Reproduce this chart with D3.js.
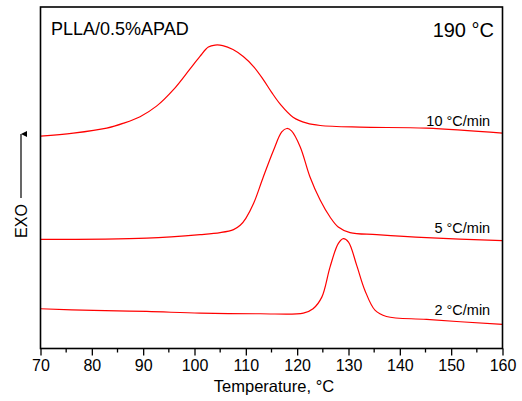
<!DOCTYPE html>
<html>
<head>
<meta charset="utf-8">
<script src="https://cdn.jsdelivr.net/npm/d3@7"></script>
<style>
  body { margin: 0; background: #fff; }
  text { font-family: "Liberation Sans", Arial, sans-serif; fill: #000; }
</style>
</head>
<body>
<div id="chart"></div>
<script>
// DSC cooling curves, PLLA/0.5%APAD held at 190 °C, then cooled at 3 rates
// heat flow in arbitrary units (exo up)

const temp10 = [70, 76.4, 82.9, 86.2, 89.4, 92.6, 95.9, 99.1, 101.1, 102.7, 104, 105.5, 107.5, 109.5, 111.5, 113.4, 115, 116.7, 119.2, 121.9, 124.5, 132.2, 145.2, 160];
const flow10 = [21.2, 21.5, 22.0, 22.5, 23.15, 24.2, 25.85, 27.9, 29.2, 30.1, 30.3, 30.25, 29.85, 29.15, 28.15, 26.85, 25.6, 24.4, 23.1, 22.5, 22.27, 22.1, 22.0, 21.5];

const temp5 = [70, 90.7, 101.1, 105, 107.6, 108.9, 110, 111.5, 113.4, 115.4, 117, 118, 118.9, 120.6, 122.5, 124.5, 126.4, 128, 130.3, 135.5, 145.2, 160];
const flow5 = [10.9, 11.03, 11.37, 11.57, 11.87, 12.3, 13.0, 14.47, 17.13, 19.8, 21.63, 21.97, 21.73, 20.13, 17.13, 14.8, 13.13, 12.13, 11.57, 11.37, 11.07, 10.77];

const temp2 = [70, 80.3, 90.7, 101.1, 112.8, 121.2, 123.1, 124.8, 126.4, 128, 129, 130, 131.6, 133.2, 135.2, 137.4, 145.2, 160];
const flow2 = [3.97, 3.8, 3.7, 3.53, 3.47, 3.53, 3.97, 5.13, 8.13, 10.47, 10.97, 10.63, 8.3, 5.8, 3.8, 3.2, 2.9, 2.4];

const rateLabels = ["10 °C/min", "5 °C/min", "2 °C/min"];
const labelTemps = [157.6, 157.6, 157.6];
const labelFlows = [22.2, 11.5, 3.3];

const xTicks = [70, 80, 90, 100, 110, 120, 130, 140, 150, 160];

const width = 522, height = 401;
const margin = { top: 7, right: 19.5, bottom: 52.5, left: 40.5 };

const x = d3.scaleLinear()
    .domain([70, 160])
    .range([margin.left, width - margin.right]);

const y = d3.scaleLinear()
    .domain([0, 34.1])
    .range([height - margin.bottom, margin.top]);

const svg = d3.select("#chart").append("svg")
    .attr("width", width)
    .attr("height", height);

// arrow marker for the EXO direction
svg.append("defs").append("marker")
    .attr("id", "head")
    .attr("viewBox", "0 0 10 10")
    .attr("refX", 5).attr("refY", 0)
    .attr("markerWidth", 6).attr("markerHeight", 11)
    .attr("markerUnits", "userSpaceOnUse")
    .attr("orient", "auto-start-reverse")
    .append("path")
    .attr("d", "M0,10 L5,0 L10,10 Z")
    .attr("fill", "#000");

const line = d3.line()
    .curve(d3.curveCatmullRom.alpha(0.5))
    .x(d => x(d[0]))
    .y(d => y(d[1]));

const series = [
    d3.zip(temp10, flow10),
    d3.zip(temp5, flow5),
    d3.zip(temp2, flow2)
];

svg.append("g")
    .attr("fill", "none")
    .attr("stroke", "#ff0000")
    .attr("stroke-width", 1.2)
    .selectAll("path")
    .data(series)
    .join("path")
    .attr("d", line);

// rate labels
svg.append("g")
    .attr("font-size", 14.5)
    .attr("text-anchor", "end")
    .selectAll("text")
    .data(rateLabels)
    .join("text")
    .attr("x", (d, i) => x(labelTemps[i]))
    .attr("y", (d, i) => y(labelFlows[i]))
    .text(d => d);

// x axis with outward ticks and minor ticks
const xAxis = svg.append("g")
    .attr("transform", `translate(0,${height - margin.bottom})`)
    .call(d3.axisBottom(x).tickValues(xTicks).tickSize(7).tickSizeOuter(0).tickPadding(4))
    .call(g => g.select(".domain").remove());

xAxis.selectAll(".tick line").attr("stroke-width", 1.3);
xAxis.selectAll(".tick text")
    .attr("font-size", 16)
    .attr("font-family", "Liberation Sans, Arial, sans-serif");

svg.append("g")
    .attr("transform", `translate(0,${height - margin.bottom})`)
    .selectAll("line")
    .data(d3.range(75, 160, 10))
    .join("line")
    .attr("x1", d => x(d)).attr("x2", d => x(d))
    .attr("y1", 0).attr("y2", 4)
    .attr("stroke", "#000")
    .attr("stroke-width", 1.3);

// frame
svg.append("rect")
    .attr("x", margin.left)
    .attr("y", margin.top)
    .attr("width", width - margin.left - margin.right)
    .attr("height", height - margin.top - margin.bottom)
    .attr("fill", "none")
    .attr("stroke", "#000")
    .attr("stroke-width", 1.6);

// axis title
svg.append("text")
    .attr("x", 274)
    .attr("y", 392)
    .attr("text-anchor", "middle")
    .attr("font-size", 16.5)
    .text("Temperature, °C");

// EXO label with arrow
svg.append("line")
    .attr("x1", 21).attr("x2", 21)
    .attr("y1", 198).attr("y2", 134)
    .attr("stroke", "#000")
    .attr("stroke-width", 1.2)
    .attr("marker-end", "url(#head)");

svg.append("text")
    .attr("transform", "translate(27,221) rotate(-90)")
    .attr("text-anchor", "middle")
    .attr("font-size", 16)
    .text("EXO");

// annotations
svg.append("text")
    .attr("x", 51)
    .attr("y", 35)
    .attr("font-size", 18)
    .text("PLLA/0.5%APAD");

svg.append("text")
    .attr("x", 494)
    .attr("y", 37)
    .attr("text-anchor", "end")
    .attr("font-size", 20)
    .text("190 °C");
</script>
</body>
</html>
